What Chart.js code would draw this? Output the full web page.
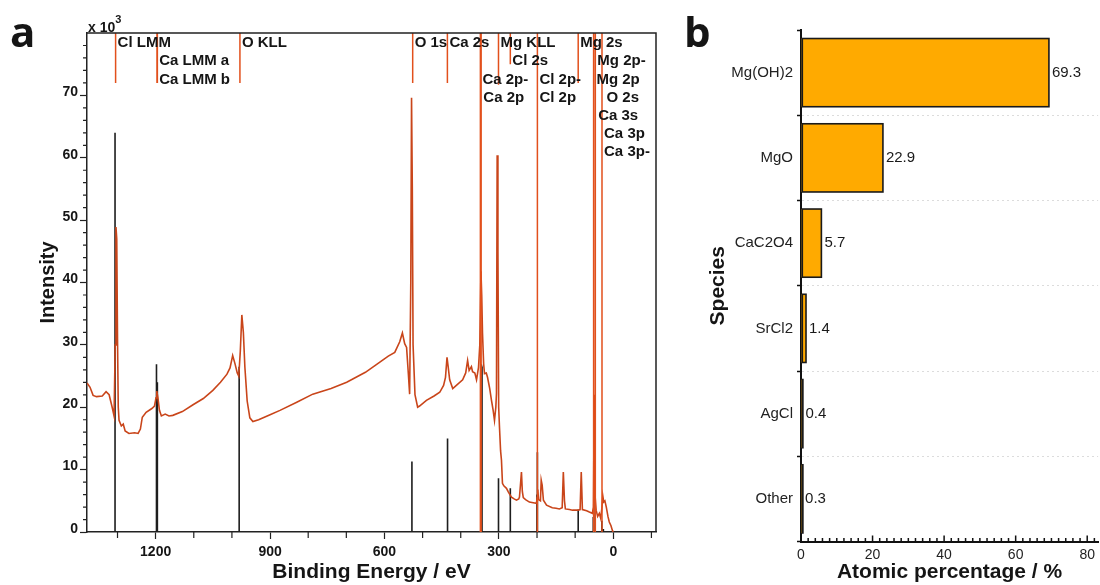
<!DOCTYPE html>
<html><head><meta charset="utf-8">
<script src="https://cdn.jsdelivr.net/npm/chart.js@4.4.0/dist/chart.umd.min.js"></script>
<style>
html,body{margin:0;padding:0;background:#fff;}
#wrap{position:relative;width:1100px;height:585px;overflow:hidden;background:#fff;}
#ca{position:absolute;left:0;top:0;}
#cb{position:absolute;left:680px;top:0;}
</style></head><body>
<div id="wrap">
<canvas id="ca" width="680" height="585"></canvas>
<canvas id="cb" width="420" height="585"></canvas>
</div>
<script>
// ---------- Panel a data (Binding energy in eV, intensity in 10^3 counts) ----------
const spectrumE = [1380,1372,1364,1355,1340,1330,1322,1314,1309,1306,1304,1302,1300,1298,1296,1290,1285,1280,1270,1255,1246,1240,1235,1225,1210,1203,1199,1197,1194,1190,1185,1175,1165,1155,1130,1102,1075,1050,1030,1013,1005,998,992,986,982,978,974,970,966,960,953,945,930,900,874,830,788,740,699,650,613,590,573,560,553,547,542,537,534,531,529,527,525,520,513,508,490,470,455,445,440,436,433,429,421,410,395,387,382,378,372,369,363,358.6,353.4,350,347,345,343,340,337.7,333,329.8,324,319.4,315,311.5,308,306.3,304.5,302.5,300.5,298.4,295.5,293.2,290.6,287,280.1,275,267,260,253.9,248,246,243.5,240.8,238.5,236,230,220,210,201.6,199.5,198,196,191,189,186.5,183.2,175,160,150,141.4,134,131,128,125.7,115,107,92,87,84,81,70,62.8,55,52,50,48,45,41,36.6,33,29.6,27.5,25,22,18.3,14,10.5,6,2.6,0];
const spectrumI = [23.9,23.2,21.9,21.7,21.8,22.5,22.0,20.0,18.6,30,48.9,47,31,20,17.9,17.0,17.3,16.2,15.8,15.9,15.8,16.5,18.4,19.2,19.8,20.2,21.5,22.6,21.5,19.5,18.6,18.9,18.6,18.7,19.3,20.4,21.4,22.7,24.0,25.3,26.3,28.3,27.0,25.5,25.0,29.0,34.8,32,26.4,21,18.3,17.7,18.0,18.8,19.5,20.8,22.1,23.0,24.0,25.6,27.2,28.2,28.8,30.5,31.9,30.2,29.6,25,22.1,40,69.6,55,30,22,20.0,20.2,21.1,21.8,22.4,23.5,24.8,28.0,26.5,24.4,23.0,23.6,24.4,25.5,27.5,25.9,26.5,25.7,25.5,24.4,26.4,30,41.8,38,32,27,25.4,25.5,24.8,23,21.1,19.5,17.9,20,22.2,60.4,45,20,16.8,13,11.5,7.8,7.4,7.0,6.4,5.6,5.3,5.1,5.3,5.6,7.5,9.6,6.5,5.5,5.2,4.8,4.7,4.6,5.5,6.8,5.2,5.0,8.3,7.5,5.1,4.3,3.9,3.8,3.7,3.9,9.6,5.0,3.7,3.6,3.5,3.5,3.6,9.6,3.6,3.4,3.2,3.0,4,22,6,3.5,2.5,3.0,2.2,4,5.8,4.8,5.0,4.0,2.5,1.6,1.0,0.3,0];

// reference (stick) lines
const stickE = [1306.5,1197.8,1196.9,1196.2,1195.5,981,528,434.6,346,345,344.2,301,270,199,200.2,92,52.5,47.5,30,26];
const stickI = [64.0,26.9,24.0,24.0,24.0,26.5,11.3,15.0,26.9,26.7,26.5,8.6,7.0,12.8,6.0,3.6,2.4,20.5,1.8,0.5];

// peak-label marker lines (from top of plot down to given intensity)
const markerE = [1305,1196.5,1195.5,979,526,435,348.5,346.5,301,270,199,92,51.6,47.1,29.6];
const markerBottom = [72,72,72,72,72,72,0,0,71.7,75,0,72,0,0,0];

// peak labels
const labelText = ["Cl LMM","Ca LMM a","Ca LMM b","O KLL","O 1s","Ca 2s","Ca 2p-","Ca 2p","Mg KLL","Cl 2s","Cl 2p-","Cl 2p","Mg 2s","Mg 2p-","Mg 2p","O 2s","Ca 3s","Ca 3p","Ca 3p-"];
const labelE    = [1305,1196,1196,979,526,435,348.5,346,301,270,199,199,92,47,49.5,23,45,29.5,29.5];
const labelRow  = [0,1,2,0,0,0,2,3,0,1,2,3,0,1,2,3,4,5,6];

const xMajor = [1200,900,600,300,0];
const yMajor = [0,10,20,30,40,50,60,70];

// ---------- Panel b data ----------
const species = ["Mg(OH)2","MgO","CaC2O4","SrCl2","AgCl","Other"];
const atomicPct = [69.3,22.9,5.7,1.4,0.4,0.3];
const pctTicks = [0,20,40,60,80];

const FONT = '"Liberation Sans", Arial, sans-serif';
const INK = '#151515';

function segs(E, top, bottom){
  const out=[];
  for(let i=0;i<E.length;i++){
    out.push({x:E[i],y:bottom[i]});
    out.push({x:E[i],y:top[i]});
    out.push({x:E[i],y:null});
  }
  return out;
}

const spectrumData = spectrumE.map((e,i)=>({x:e,y:spectrumI[i]}));
const stickData = segs(stickE, stickI, stickE.map(()=>0));
const markerData = segs(markerE, markerE.map(()=>80), markerBottom);

const panelAPlugin = {
  id:'panelA',
  afterDraw(chart){
    const {ctx, chartArea:a, scales:{x,y}} = chart;
    ctx.save();
    ctx.strokeStyle='#222'; ctx.lineWidth=1.5;
    ctx.beginPath(); ctx.moveTo(a.left,a.top); ctx.lineTo(a.right,a.top); ctx.lineTo(a.right,a.bottom); ctx.stroke();
    ctx.lineWidth=1.2;
    ctx.beginPath();
    for(let v=-100; v<=1300; v+=100){
      if(xMajor.includes(v)) continue;
      const px = x.getPixelForValue(v);
      ctx.moveTo(px,a.bottom); ctx.lineTo(px,a.bottom+6);
    }
    for(let v=0; v<=80; v+=2){
      if(v%10===0) continue;
      const py = y.getPixelForValue(v);
      ctx.moveTo(a.left-4,py); ctx.lineTo(a.left,py);
    }
    ctx.stroke();
    ctx.fillStyle=INK;
    ctx.textBaseline='alphabetic';
    ctx.font='bold 14px '+FONT;
    ctx.fillText('x 10', 88, 32);
    const w = ctx.measureText('x 10').width;
    ctx.font='bold 11px '+FONT;
    ctx.fillText('3', 88+w, 23);
    ctx.font='bold 15px '+FONT;
    ctx.textBaseline='middle';
    for(let i=0;i<labelText.length;i++){
      const px = x.getPixelForValue(labelE[i])+2;
      const py = a.top + 10 + labelRow[i]*18.2;
      ctx.fillText(labelText[i], px, py);
    }
    ctx.font='bold 42px "Open Sans", '+FONT;
    ctx.textBaseline='alphabetic';
    ctx.fillText('a', 10, 47);
    ctx.restore();
  }
};

new Chart(document.getElementById('ca'), {
  type:'scatter',
  data:{datasets:[
    {data:markerData, showLine:true, borderColor:'#E2501C', borderWidth:1.5, pointRadius:0, spanGaps:false, order:0},
    {data:spectrumData, showLine:true, borderColor:'#C9451A', borderWidth:1.6, pointRadius:0, order:1},
    {data:stickData, showLine:true, borderColor:'#1e1e1e', borderWidth:1.6, pointRadius:0, spanGaps:false, order:2}
  ]},
  options:{
    responsive:false, animation:false, devicePixelRatio:1,
    layout:{padding:{top:33,right:24,left:0,bottom:0}},
    plugins:{legend:{display:false}, tooltip:{enabled:false}},
    scales:{
      x:{type:'linear', reverse:true, min:-112, max:1380,
        afterBuildTicks:s=>{ s.ticks = xMajor.map(v=>({value:v})); },
        afterFit:s=>{ s.height = 53; },
        ticks:{font:{family:FONT, weight:'bold', size:14}, color:INK, padding:5, maxRotation:0, autoSkip:false, callback:v=>String(v)},
        grid:{drawOnChartArea:false, drawTicks:true, tickLength:7, tickColor:'#222', tickWidth:1.2},
        border:{display:true, color:'#222', width:1.5},
        title:{display:true, text:'Binding Energy / eV', font:{family:FONT, weight:'bold', size:21}, color:INK, padding:{top:0,bottom:0}}
      },
      y:{type:'linear', min:0, max:80,
        afterBuildTicks:s=>{ s.ticks = yMajor.map(v=>({value:v})); },
        afterFit:s=>{ s.width = 87; },
        ticks:{font:{family:FONT, weight:'bold', size:14}, color:INK, padding:2, labelOffset:-3, callback:v=>String(v)},
        grid:{drawOnChartArea:false, drawTicks:true, tickLength:7, tickColor:'#222', tickWidth:1.2},
        border:{display:true, color:'#222', width:1.5},
        title:{display:true, text:'Intensity', font:{family:FONT, weight:'bold', size:20}, color:INK, padding:{top:36,bottom:0}}
      }
    }
  },
  plugins:[panelAPlugin]
});

// ---------- Panel b ----------
const panelBPlugin = {
  id:'panelB',
  afterDatasetsDraw(chart){
    // outline each bar (keeps thin bars visible as dark strokes)
    const {ctx} = chart;
    const meta = chart.getDatasetMeta(0);
    ctx.save();
    ctx.strokeStyle='#1a1a1a'; ctx.lineWidth=1.6;
    meta.data.forEach(el=>{
      const l = Math.min(el.base, el.x), r = Math.max(el.base, el.x);
      ctx.strokeRect(l+0.8, el.y - el.height/2, Math.max(r-l-0.8, 0.6), el.height);
    });
    ctx.restore();
  },
  afterDraw(chart){
    const {ctx, chartArea:a, scales:{x}} = chart;
    ctx.save();
    ctx.strokeStyle='#111'; ctx.lineWidth=1.5;
    ctx.beginPath();
    for(let v=0; v<=82; v+=2){
      const px = x.getPixelForValue(v);
      const len = (v%20===0)?6:3.5;
      ctx.moveTo(px,a.bottom); ctx.lineTo(px,a.bottom-len);
    }
    ctx.stroke();
    const meta = chart.getDatasetMeta(0);
    ctx.fillStyle='#1a1a1a';
    ctx.font='15px '+FONT;
    ctx.textBaseline='middle';
    meta.data.forEach((el,i)=>{
      ctx.fillText(String(atomicPct[i]), el.x+3, el.y);
    });
    ctx.font='bold 42px "Open Sans", '+FONT;
    ctx.textBaseline='alphabetic';
    ctx.fillStyle=INK;
    ctx.fillText('b', 4, 47);
    ctx.restore();
  }
};

new Chart(document.getElementById('cb'), {
  type:'bar',
  data:{labels:species, datasets:[{data:atomicPct, backgroundColor:'#FFAA00', borderWidth:0, barPercentage:0.8, categoryPercentage:1}]},
  options:{
    indexAxis:'y', responsive:false, animation:false, devicePixelRatio:1,
    layout:{padding:{top:30,right:0,left:0,bottom:0}},
    plugins:{legend:{display:false}, tooltip:{enabled:false}},
    scales:{
      x:{type:'linear', min:0, max:83.05,
        afterBuildTicks:s=>{ s.ticks = pctTicks.map(v=>({value:v})); },
        afterFit:s=>{ s.height = 43.5; },
        ticks:{font:{family:FONT, size:14}, color:'#222', padding:5, maxRotation:0, autoSkip:false},
        grid:{drawOnChartArea:false, drawTicks:false},
        border:{display:true, color:'#111', width:2},
        title:{display:true, text:'Atomic percentage / %', font:{family:FONT, weight:'bold', size:21}, color:INK, padding:{top:0,bottom:0}}
      },
      y:{
        afterFit:s=>{ s.width = 121; },
        ticks:{font:{family:FONT, size:15}, color:'#222', padding:4},
        grid:{offset:true, drawOnChartArea:true, color:c=>(c.index===0?'rgba(0,0,0,0)':'#dcdcdc'), lineWidth:1, drawTicks:true, tickLength:4, tickColor:'#111', tickWidth:1.5},
        border:{display:true, color:'#111', width:2, dash:[2,3]},
        title:{display:true, text:'Species', font:{family:FONT, weight:'bold', size:21}, color:INK, padding:{top:26,bottom:0}}
      }
    }
  },
  plugins:[panelBPlugin]
});
</script>
</body></html>
